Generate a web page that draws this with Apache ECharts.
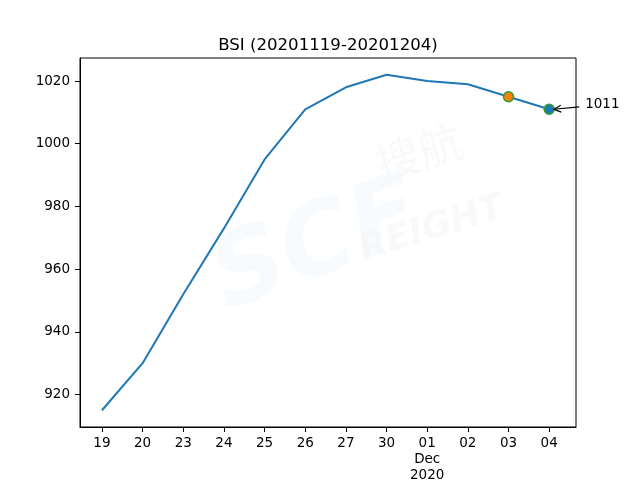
<!DOCTYPE html>
<html><head><meta charset="utf-8">
<script src="https://cdn.jsdelivr.net/npm/echarts@6/dist/echarts.min.js"></script>
<style>html,body{margin:0;padding:0;background:#fff}#c{width:640px;height:480px}</style>
</head><body><div id="c"></div>
<script>
const titleText = 'BSI (20201119-20201204)';
const categories = ['19','20','23','24','25','26','27','30','01\nDec\n2020','02','03','04'];
const values = [915, 930, 952, 973, 995, 1011, 1018, 1022, 1020, 1019, 1015, 1011];
const yTicks = [920, 940, 960, 980, 1000, 1020];
const prevIndex = 10;
const lastIndex = 11;
const annotationText = String(values[lastIndex]);

const font = 'DejaVu Sans';
const xs = categories.map((_, i) => i);
const chart = echarts.init(document.getElementById('c'), null, {renderer: 'canvas'});
const yMin = Math.min(...values), yMax = Math.max(...values);
const yPad = (yMax - yMin) * 0.05;

chart.setOption({
  animation: false,
  backgroundColor: '#fff',
  title: {text: titleText, left: 323, textAlign: 'center', top: 32,
    textStyle: {fontFamily: font, fontSize: 16.6, fontWeight: 'normal', color: '#000'}},
  grid: {left: 80, right: 64, top: 58, bottom: 53, containLabel: false, outerBoundsMode: 'none',
    show: true, borderColor: '#000', borderWidth: 1},
  xAxis: {type: 'value', min: -0.54, max: xs.length - 1 + 0.66,
    axisLine: {show: true, onZero: false, lineStyle: {color: '#000', width: 1}},
    splitLine: {show: false},
    axisTick: {show: true, length: 5, lineStyle: {color: '#000'}, customValues: xs},
    axisLabel: {customValues: xs, formatter: v => categories[Math.round(v)] || '', margin: 8,
      fontFamily: font, fontSize: 13.5, color: '#000', lineHeight: 16, verticalAlign: 'top'}},
  yAxis: {type: 'value', min: yMin - yPad, max: yMax + yPad,
    axisLine: {show: true, onZero: false, lineStyle: {color: '#000', width: 1}},
    splitLine: {show: false},
    axisTick: {show: true, length: 5, lineStyle: {color: '#000'}, customValues: yTicks},
    axisLabel: {customValues: yTicks, formatter: v => String(Math.round(v)), margin: 10,
      fontFamily: font, fontSize: 13.5, color: '#000'}},
  series: [
    {type: 'line', data: xs.map(i => [i, values[i]]), showSymbol: false, symbol: 'none',
      lineStyle: {color: '#1f77b4', width: 2}, z: 3},
    {type: 'scatter', data: [[prevIndex, values[prevIndex]]], symbolSize: 10,
      itemStyle: {color: '#ff7f0e', borderColor: '#2ca02c', borderWidth: 1.5, opacity: 1}, z: 4},
    {type: 'scatter', data: [[lastIndex, values[lastIndex]]], symbolSize: 10,
      itemStyle: {color: '#1f77b4', borderColor: '#2ca02c', borderWidth: 1.5, opacity: 1}, z: 4}
  ]
});

const p = chart.convertToPixel({gridIndex: 0}, [lastIndex, values[lastIndex]]);
const tx = p[0] + 36, ty = p[1] - 5;
const sx = p[0] + 30, sy = p[1] - 2.3;
const ex = p[0] + 4.7, ey = p[1];
const ang = Math.atan2(ey - sy, ex - sx);
const ah = 8, aw = 0.45;
chart.setOption({graphic: [
  {type: 'text', left: 200, top: 165, rotation: 0.35, z: 0, silent: true,
    style: {text: 'SCF', font: 'italic bold 100px "DejaVu Sans"', fill: 'rgba(232,242,250,0.3)'}},
  {type: 'text', left: 370, top: 118, rotation: 0.3, z: 0, silent: true,
    style: {text: '搜航', font: '44px "Noto Sans CJK SC"', fill: 'rgba(242,242,242,0.45)'}},
  {type: 'text', left: 355, top: 190, rotation: 0.3, z: 0, silent: true,
    style: {text: 'REIGHT', font: 'italic bold 36px "DejaVu Sans"', fill: 'rgba(242,242,242,0.45)'}},
  {type: 'line', z: 10, shape: {x1: sx, y1: sy, x2: ex, y2: ey}, style: {stroke: '#000', lineWidth: 1.2}},
  {type: 'polyline', z: 10, shape: {points: [
      [ex - ah * Math.cos(ang - aw), ey - ah * Math.sin(ang - aw)], [ex, ey],
      [ex - ah * Math.cos(ang + aw), ey - ah * Math.sin(ang + aw)]]},
    style: {stroke: '#000', fill: null, lineWidth: 1.2}},
  {type: 'text', z: 10, x: tx, y: ty,
    style: {text: annotationText, fill: '#000', font: '13.5px "DejaVu Sans"', textVerticalAlign: 'middle'}}
]});
</script></body></html>
